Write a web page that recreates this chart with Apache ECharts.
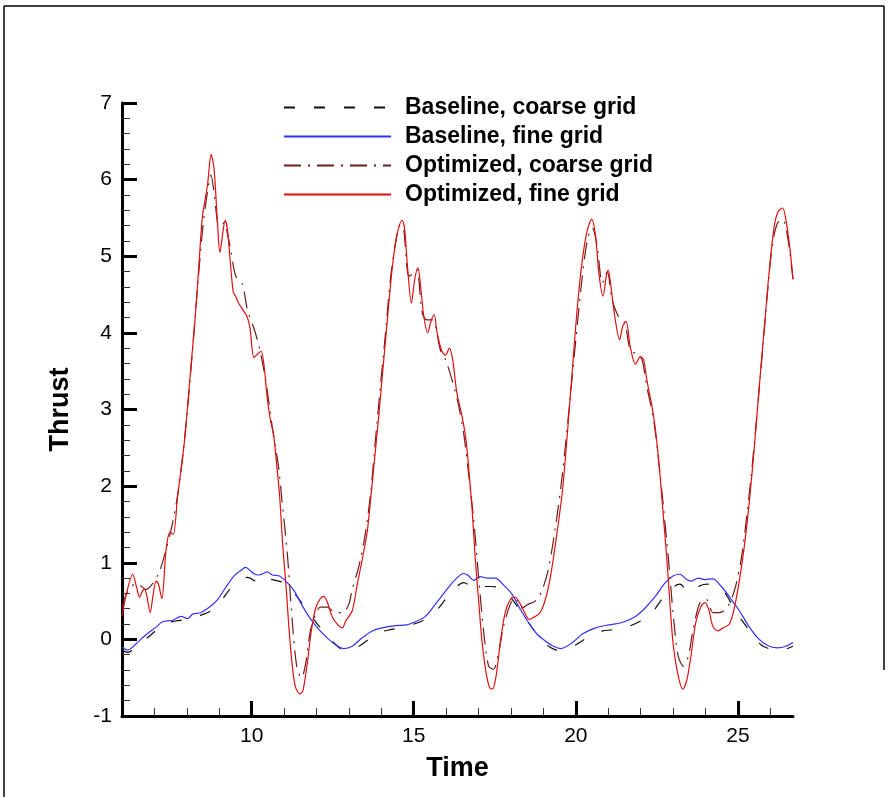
<!DOCTYPE html>
<html><head><meta charset="utf-8">
<script src="https://cdn.jsdelivr.net/npm/echarts@6/dist/echarts.min.js"></script>
<style>html,body{margin:0;padding:0;background:#fff}#c{width:891px;height:797px}</style>
</head><body><div id="c"></div>
<script>
// ---------------- data ----------------
const seriesNames = ['Baseline, coarse grid', 'Baseline, fine grid', 'Optimized, coarse grid', 'Optimized, fine grid'];
const xMajorTicks = [10, 15, 20, 25];
const xMinorTicks = [7, 8, 9, 11, 12, 13, 14, 16, 17, 18, 19, 21, 22, 23, 24, 26];

const timeBaseCoarse = [6.0,6.18,6.54,6.95,7.25,7.66,7.97,8.38,8.69,9.0,9.30,9.61,9.87,10.07,10.23,10.43,10.64,10.84,11.05,11.30,11.56,11.81,12.12,12.43,12.74,12.95,13.31,13.61,13.92,14.33,14.74,15.15,15.46,15.77,16.08,16.33,16.54,16.75,16.90,17.10,17.41,17.67,17.93,18.23,18.54,18.85,19.16,19.50,20.0,20.41,20.82,21.22,21.63,22.04,22.35,22.65,22.96,23.21,23.42,23.62,23.83,24.08,24.34,24.59,24.85,25.10,25.41,25.71,26.02,26.33,26.70];
const thrustBaseCoarse = [-0.14,-0.17,-0.06,0.08,0.20,0.24,0.26,0.31,0.36,0.47,0.64,0.76,0.81,0.77,0.72,0.79,0.78,0.76,0.73,0.61,0.47,0.32,0.15,0.0,-0.12,-0.15,-0.09,0.0,0.09,0.13,0.17,0.22,0.29,0.41,0.58,0.69,0.74,0.70,0.66,0.69,0.69,0.67,0.58,0.41,0.22,0.04,-0.09,-0.15,-0.07,0.04,0.11,0.13,0.17,0.25,0.35,0.52,0.67,0.72,0.64,0.61,0.70,0.72,0.69,0.61,0.43,0.26,0.09,-0.07,-0.13,-0.14,-0.09];

const timeBaseFine = [6.0,6.18,6.43,6.74,7.05,7.25,7.56,7.82,8.02,8.18,8.43,8.69,8.95,9.20,9.46,9.66,9.82,9.97,10.10,10.23,10.48,10.64,10.84,11.05,11.30,11.56,11.81,12.07,12.33,12.59,12.84,13.10,13.41,13.72,14.02,14.44,14.79,15.05,15.36,15.67,15.98,16.28,16.54,16.69,16.85,17.05,17.26,17.52,17.77,18.03,18.29,18.54,18.80,19.06,19.31,19.54,19.90,20.20,20.61,21.02,21.43,21.84,22.14,22.45,22.76,23.01,23.21,23.42,23.57,23.78,23.98,24.23,24.49,24.80,25.05,25.31,25.61,25.92,26.22,26.48,26.70];
const thrustBaseFine = [-0.10,-0.14,-0.06,0.06,0.16,0.23,0.25,0.30,0.27,0.33,0.35,0.42,0.52,0.68,0.83,0.90,0.94,0.89,0.85,0.84,0.88,0.84,0.83,0.76,0.64,0.44,0.27,0.13,0.02,-0.07,-0.12,-0.09,0.02,0.11,0.15,0.18,0.19,0.23,0.30,0.46,0.63,0.78,0.86,0.83,0.77,0.82,0.80,0.80,0.71,0.59,0.39,0.22,0.07,-0.02,-0.09,-0.12,-0.04,0.07,0.15,0.19,0.22,0.30,0.41,0.56,0.74,0.83,0.85,0.78,0.76,0.80,0.78,0.79,0.69,0.52,0.37,0.19,0.02,-0.08,-0.11,-0.09,-0.04];

const timeOptCoarse = [6.0,6.12,6.23,6.40,6.54,6.74,6.95,7.15,7.36,7.55,7.72,7.90,8.05,8.20,8.35,8.50,8.64,8.74,8.85,8.95,9.05,9.15,9.25,9.36,9.51,9.71,9.87,10.07,10.23,10.43,10.64,10.82,10.94,11.10,11.25,11.40,11.54,11.66,11.81,11.97,12.12,12.33,12.58,12.81,12.99,13.10,13.31,13.51,13.67,13.82,13.97,14.13,14.28,14.44,14.59,14.69,14.85,15.0,15.1,15.26,15.41,15.56,15.67,15.82,15.98,16.18,16.39,16.54,16.69,16.85,17.0,17.16,17.31,17.46,17.62,17.77,17.98,18.13,18.34,18.54,18.75,18.95,19.16,19.39,19.59,19.80,20.0,20.20,20.36,20.51,20.66,20.82,20.97,21.12,21.33,21.51,21.68,21.89,22.04,22.19,22.40,22.55,22.70,22.86,23.01,23.16,23.32,23.47,23.62,23.83,24.03,24.23,24.44,24.69,24.90,25.10,25.31,25.46,25.61,25.77,25.92,26.07,26.22,26.38,26.53,26.70];
const thrustOptCoarse = [0.42,0.58,0.66,0.72,0.71,0.65,0.73,0.88,1.17,1.50,1.89,2.50,3.15,3.90,4.70,5.40,5.85,6.06,5.80,5.44,5.40,5.44,5.30,5.07,4.74,4.64,4.30,4.06,3.82,3.39,2.76,2.28,1.79,1.12,0.25,-0.38,-0.50,-0.33,0.11,0.32,0.42,0.42,0.35,0.35,0.45,0.65,0.96,1.39,1.91,2.61,3.30,4.0,4.70,5.17,5.41,5.35,4.74,4.78,4.83,4.26,4.17,4.17,4.09,3.78,3.65,3.39,3.04,2.69,2.17,1.56,0.82,0.09,-0.35,-0.39,-0.17,0.17,0.46,0.54,0.41,0.46,0.50,0.63,0.93,1.52,2.17,3.04,3.91,4.74,5.22,5.37,5.13,4.65,4.80,4.43,4.20,4.13,3.78,3.72,3.65,3.30,2.87,2.35,1.74,1.04,0.30,-0.22,-0.35,-0.22,0.13,0.48,0.52,0.35,0.35,0.43,0.65,1.04,1.74,2.35,3.04,3.82,4.56,5.17,5.43,5.48,5.26,4.70];

const timeOptFine = [6.0,6.15,6.33,6.45,6.54,6.62,6.69,6.76,6.87,6.95,7.05,7.12,7.23,7.36,7.48,7.58,7.72,7.87,7.97,8.12,8.26,8.38,8.48,8.64,8.75,8.84,8.95,9.02,9.10,9.18,9.25,9.33,9.43,9.51,9.61,9.76,9.86,9.95,10.07,10.20,10.29,10.38,10.48,10.58,10.68,10.76,10.86,10.96,11.07,11.15,11.25,11.35,11.49,11.58,11.71,11.84,11.97,12.10,12.22,12.33,12.48,12.68,12.80,12.90,13.10,13.25,13.41,13.56,13.67,13.77,13.92,14.02,14.15,14.28,14.38,14.49,14.64,14.72,14.79,14.93,15.03,15.13,15.21,15.31,15.43,15.53,15.63,15.72,15.87,15.98,16.10,16.20,16.33,16.49,16.61,16.69,16.80,16.90,17.0,17.10,17.23,17.34,17.43,17.54,17.67,17.82,17.98,18.13,18.29,18.44,18.56,18.75,18.90,19.06,19.21,19.39,19.59,19.74,19.90,20.05,20.20,20.36,20.49,20.61,20.71,20.84,20.94,21.0,21.07,21.20,21.35,21.45,21.55,21.68,21.84,21.99,22.09,22.19,22.35,22.47,22.60,22.70,22.81,22.91,23.01,23.16,23.30,23.42,23.55,23.70,23.86,23.98,24.10,24.23,24.39,24.54,24.74,24.90,25.05,25.20,25.36,25.51,25.66,25.82,25.97,26.12,26.24,26.38,26.48,26.61,26.70];
const thrustOptFine = [0.30,0.62,0.85,0.68,0.55,0.62,0.66,0.58,0.35,0.55,0.76,0.73,0.53,1.17,1.40,1.37,1.89,2.37,2.78,3.53,4.21,4.93,5.51,5.94,6.33,6.14,5.41,5.05,5.27,5.47,5.36,4.98,4.54,4.47,4.38,4.28,4.21,4.06,3.68,3.73,3.76,3.58,3.15,2.86,2.66,2.33,1.89,1.22,0.64,0.15,-0.33,-0.62,-0.71,-0.67,-0.33,0.11,0.40,0.52,0.56,0.49,0.30,0.18,0.15,0.24,0.37,0.70,1.04,1.39,1.83,2.26,2.91,3.39,4.0,4.61,5.0,5.30,5.47,5.35,4.96,4.39,4.70,4.85,4.61,4.22,4.0,4.15,4.24,4.0,3.76,3.71,3.80,3.65,3.22,2.91,2.61,2.26,1.70,1.04,0.52,0.0,-0.43,-0.63,-0.65,-0.48,-0.04,0.35,0.52,0.55,0.46,0.33,0.26,0.30,0.35,0.52,0.80,1.30,1.95,2.69,3.56,4.35,4.95,5.35,5.48,5.26,4.78,4.48,4.74,4.82,4.65,4.22,3.91,4.09,4.15,3.82,3.59,3.69,3.65,3.39,3.04,2.69,2.13,1.61,1.04,0.43,-0.09,-0.48,-0.65,-0.54,-0.22,0.22,0.43,0.48,0.39,0.17,0.11,0.15,0.20,0.43,0.78,1.22,1.83,2.52,3.30,4.09,4.82,5.39,5.58,5.63,5.48,5.08,4.70];

// ---------------- chart ----------------
const zip = (a, b) => a.map((t, i) => [t, b[i]]);
const FONT = '"Liberation Sans", Arial, Helvetica, sans-serif';
const chart = echarts.init(document.getElementById('c'), null, {renderer: 'canvas'});

const mkSeries = (name, t, v, color, type) => ({
  name, type: 'line', xAxisIndex: 0, yAxisIndex: 0,
  data: zip(t, v), symbol: 'none', showSymbol: false, smooth: 0.3,
  lineStyle: {color, width: 1.2, type},
  itemStyle: {color},
  emphasis: {disabled: true}
});

chart.setOption({
  animation: false,
  backgroundColor: '#fff',
  grid: {left: 122, right: 98, top: 103, bottom: 81, containLabel: false, outerBoundsMode: 'none'},
  legend: {
    orient: 'vertical', left: 278, top: 91,
    itemWidth: 107, itemHeight: 14, itemGap: 6,
    selectedMode: false,
    itemStyle: {opacity: 0, borderWidth: 0},
    textStyle: {fontSize: 23, fontWeight: 'bold', fontFamily: FONT, color: '#000', padding: [0, 0, 0, 9], lineHeight: 23},
    data: seriesNames
  },
  xAxis: [
    {
      type: 'value', min: 6, max: 26.7, position: 'bottom',
      axisLine: {onZero: false, lineStyle: {color: '#000', width: 3}},
      axisTick: {customValues: xMajorTicks, inside: true, length: 15, lineStyle: {color: '#000', width: 3}},
      axisLabel: {customValues: xMajorTicks, fontSize: 21, color: '#000', fontFamily: FONT, margin: 10},
      splitLine: {show: false},
      name: 'Time', nameLocation: 'middle', nameGap: 39,
      nameTextStyle: {fontSize: 27, fontWeight: 'bold', color: '#000', fontFamily: FONT}
    },
    {
      type: 'value', min: 6, max: 26.7, position: 'bottom',
      axisLine: {show: false, onZero: false},
      axisTick: {customValues: xMinorTicks, inside: true, length: 8, lineStyle: {color: '#333', width: 1}},
      axisLabel: {show: false},
      splitLine: {show: false}
    }
  ],
  yAxis: {
    type: 'value', min: -1, max: 7, interval: 1,
    axisLine: {onZero: false, lineStyle: {color: '#000', width: 3}},
    axisTick: {inside: true, length: 15, lineStyle: {color: '#000', width: 3}},
    minorTick: {show: true, splitNumber: 5, length: 8, lineStyle: {color: '#333', width: 1}},
    axisLabel: {fontSize: 21, color: '#000', fontFamily: FONT, margin: 10},
    splitLine: {show: false},
    name: 'Thrust', nameLocation: 'middle', nameGap: 48, nameRotate: 90,
    nameTextStyle: {fontSize: 27, fontWeight: 'bold', color: '#000', fontFamily: FONT}
  },
  graphic: [
    {type: 'line', shape: {x1: 4, y1: 6, x2: 884, y2: 6}, style: {stroke: '#000', lineWidth: 1.5}, silent: true},
    {type: 'line', shape: {x1: 4, y1: 6, x2: 4, y2: 797}, style: {stroke: '#000', lineWidth: 1.5}, silent: true},
    {type: 'line', shape: {x1: 884, y1: 6, x2: 884, y2: 670}, style: {stroke: '#000', lineWidth: 1.5}, silent: true}
  ],
  series: [
    mkSeries(seriesNames[0], timeBaseCoarse, thrustBaseCoarse, '#111111', [11, 19]),
    mkSeries(seriesNames[1], timeBaseFine, thrustBaseFine, '#3030ff', 'solid'),
    mkSeries(seriesNames[2], timeOptCoarse, thrustOptCoarse, '#6b1d1d', [17, 7, 2, 7]),
    mkSeries(seriesNames[3], timeOptFine, thrustOptFine, '#e01010', 'solid')
  ]
});
</script>
</body></html>
